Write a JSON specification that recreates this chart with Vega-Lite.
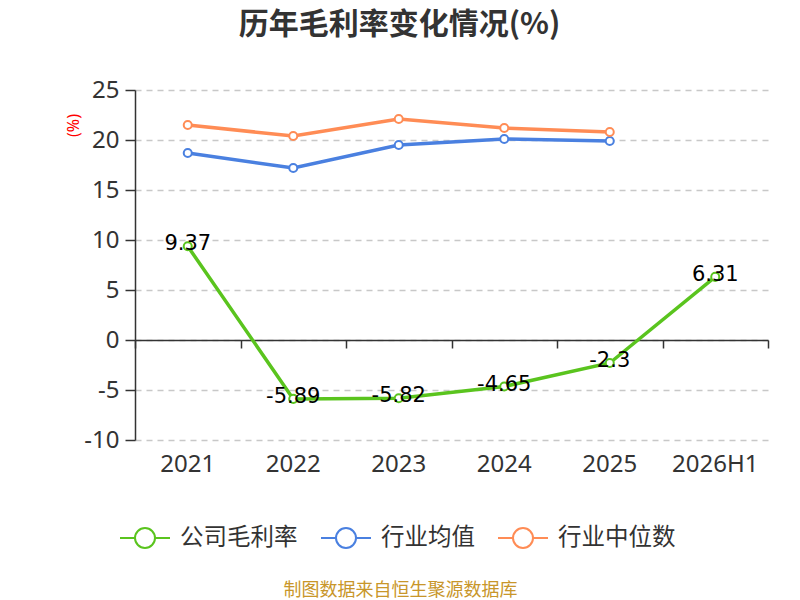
{
  "$schema": "https://vega.github.io/schema/vega-lite/v6.json",
  "width": 633,
  "height": 350,
  "autosize": {"type": "none"},
  "padding": {"left": 135, "top": 90, "right": 32, "bottom": 160},
  "background": "white",
  "title": {
    "text": "历年毛利率变化情况(%)",
    "font": "Noto Sans CJK SC",
    "fontSize": 30,
    "fontWeight": "bold",
    "color": "#333333",
    "anchor": "middle",
    "frame": "group",
    "dx": -52,
    "offset": 38
  },
  "config": {
    "view": {"stroke": null},
    "font": "Noto Sans CJK SC"
  },
  "data": {
    "values": [
      {"year": "2021", "series": "公司毛利率", "value": 9.37},
      {"year": "2022", "series": "公司毛利率", "value": -5.89},
      {"year": "2023", "series": "公司毛利率", "value": -5.82},
      {"year": "2024", "series": "公司毛利率", "value": -4.65},
      {"year": "2025", "series": "公司毛利率", "value": -2.3},
      {"year": "2026H1", "series": "公司毛利率", "value": 6.31},
      {"year": "2021", "series": "行业均值", "value": 18.7},
      {"year": "2022", "series": "行业均值", "value": 17.2},
      {"year": "2023", "series": "行业均值", "value": 19.5},
      {"year": "2024", "series": "行业均值", "value": 20.1},
      {"year": "2025", "series": "行业均值", "value": 19.9},
      {"year": "2021", "series": "行业中位数", "value": 21.5},
      {"year": "2022", "series": "行业中位数", "value": 20.4},
      {"year": "2023", "series": "行业中位数", "value": 22.1},
      {"year": "2024", "series": "行业中位数", "value": 21.2},
      {"year": "2025", "series": "行业中位数", "value": 20.8}
    ]
  },
  "resolve": {"axis": {"x": "independent"}},
  "layer": [
    {
      "mark": {"type": "line", "strokeWidth": 3.5},
      "encoding": {
        "x": {
          "field": "year", "type": "nominal", "bandPosition": 0.5,
          "sort": ["2021", "2022", "2023", "2024", "2025", "2026H1"],
          "scale": {"type": "band", "paddingInner": 0, "paddingOuter": 0},
          "axis": {
            "orient": "bottom",
            "title": null, "labels": false, "grid": false,
            "domain": true, "domainColor": "#333333", "domainWidth": 1.5,
            "ticks": true, "tickBand": "extent", "tickColor": "#333333", "tickWidth": 1.5, "tickSize": 8,
            "offset": -100
          }
        },
        "y": {
          "field": "value", "type": "quantitative",
          "scale": {"domain": [-10, 25], "nice": false, "zero": false},
          "axis": {
            "values": [-10, -5, 0, 5, 10, 15, 20, 25],
            "labelExpr": "'' + datum.value",
            "title": "(%)",
            "titleColor": "red",
            "titleFont": "Noto Sans",
            "titleFontSize": 16,
            "titleFontWeight": "normal",
            "titleX": -62,
            "titleY": 35,
            "titleAlign": "center",
            "titleBaseline": "middle",
            "titleAngle": 270,
            "labelFont": "Noto Sans",
            "labelFontSize": 24,
            "labelColor": "#333333",
            "labelPadding": 6,
            "domain": true, "domainColor": "#333333", "domainWidth": 1.5,
            "ticks": true, "tickColor": "#333333", "tickWidth": 1.5, "tickSize": 10,
            "grid": true, "gridColor": "#c8c8c8", "gridDash": [6, 5], "gridWidth": 1.3
          }
        },
        "color": {
          "field": "series", "type": "nominal",
          "scale": {
            "domain": ["公司毛利率", "行业均值", "行业中位数"],
            "range": ["#5ac41e", "#4a80e0", "#ff8c55"]
          },
          "legend": {
            "title": null,
            "orient": "none",
            "direction": "horizontal",
            "legendX": -16,
            "legendY": 422,
            "padding": 0,
            "symbolType": "M-1,0L-0.4,0M0.4,0L1,0M-0.4,0A0.4,0.4,0,1,1,0.4,0A0.4,0.4,0,1,1,-0.4,0",
            "symbolSize": 2500,
            "symbolStrokeWidth": 2,
            "symbolFillColor": "white",
            "labelFont": "Noto Sans CJK SC",
            "labelFontSize": 23.5,
            "labelColor": "#333333",
            "labelOffset": 9,
            "columnPadding": 19
          }
        }
      }
    },
    {
      "mark": {"type": "point", "filled": true, "fill": "white", "strokeWidth": 2, "size": 65, "opacity": 1},
      "encoding": {
        "x": {
          "field": "year", "type": "nominal", "bandPosition": 0.5,
          "sort": ["2021", "2022", "2023", "2024", "2025", "2026H1"],
          "axis": {
            "orient": "bottom",
            "labelFont": "Noto Sans", "labelFontSize": 24, "labelColor": "#333333",
            "labelAngle": 0, "labelPadding": 12,
            "domain": false, "ticks": false, "grid": false,
            "title": "制图数据来自恒生聚源数据库",
            "titleFont": "Noto Sans CJK SC", "titleFontSize": 18, "titleFontWeight": "normal",
            "titleColor": "#c8962a",
            "titleX": 265, "titleY": 150, "titleAlign": "center", "titleBaseline": "middle"
          }
        },
        "y": {"field": "value", "type": "quantitative"},
        "stroke": {"field": "series", "type": "nominal", "legend": null, "scale": {
            "domain": ["公司毛利率", "行业均值", "行业中位数"],
            "range": ["#5ac41e", "#4a80e0", "#ff8c55"]}}
      }
    },
    {
      "transform": [{"filter": "datum.series === '公司毛利率'"}],
      "mark": {"type": "text", "font": "DejaVu Sans", "fontSize": 21, "color": "black", "baseline": "middle", "dy": -2},
      "encoding": {
        "x": {"field": "year", "type": "nominal", "bandPosition": 0.5, "sort": ["2021", "2022", "2023", "2024", "2025", "2026H1"], "axis": null},
        "y": {"field": "value", "type": "quantitative"},
        "text": {"field": "value", "type": "nominal"}
      }
    }
  ]
}
